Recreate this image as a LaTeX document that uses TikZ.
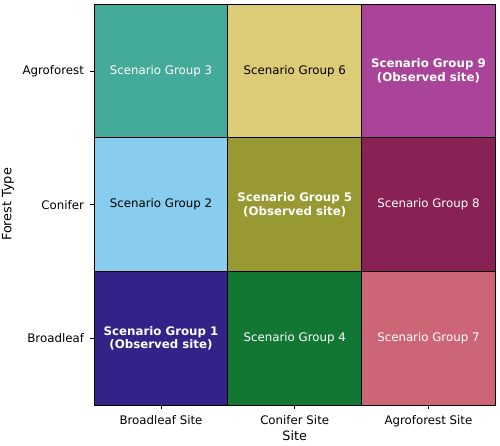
\documentclass[tikz,border=0pt]{standalone}
\usepackage{fontspec}
\setmainfont{DejaVu Sans}
\usepackage{tikz}
\usetikzlibrary{positioning}
\usepackage{xcolor}
\definecolor{tolindigo}{HTML}{332288}
\definecolor{tolcyan}{HTML}{88CCEE}
\definecolor{tolteal}{HTML}{44AA99}
\definecolor{tolgreen}{HTML}{117733}
\definecolor{tololive}{HTML}{999933}
\definecolor{tolsand}{HTML}{DDCC77}
\definecolor{tolrose}{HTML}{CC6677}
\definecolor{tolwine}{HTML}{882255}
\definecolor{tolpurple}{HTML}{AA4499}
\newcommand{\obsline}[1]{\textbf{Scenario Group #1}\\\textbf{(Observed site)}}

\begin{document}
\begin{tikzpicture}[x=1pt, y=-1pt, font=\fontsize{11.8}{13.5}\selectfont,
  cell/.style={draw=black, line width=1pt, minimum width=133.7pt,
    minimum height=133.7pt, inner sep=0pt, outer sep=0pt, align=center},
  lab/.style={inner sep=0pt},
  axtitle/.style={inner sep=0pt, font=\fontsize{12.8}{14}\selectfont}]
\useasboundingbox (0,0) rectangle (500,446);

% grid of scenario groups, top row first
\node[cell, fill=tolteal, text=white] (g3) at (161,71) {Scenario Group 3};
\node[cell, fill=tolsand, right=0pt of g3] (g6) {Scenario Group 6};
\node[cell, fill=tolpurple, text=white, right=0pt of g6] (g9) {\obsline{9}};
\node[cell, fill=tolcyan, below=0pt of g3] (g2) {Scenario Group 2};
\node[cell, fill=tololive, text=white, right=0pt of g2] (g5) {\obsline{5}};
\node[cell, fill=tolwine, text=white, right=0pt of g5] (g8) {Scenario Group 8};
\node[cell, fill=tolindigo, text=white, below=0pt of g2] (g1) {\obsline{1}};
\node[cell, fill=tolgreen, text=white, right=0pt of g1] (g4) {Scenario Group 4};
\node[cell, fill=tolrose, text=white, right=0pt of g4] (g7) {Scenario Group 7};

% ticks
\foreach \c in {g3,g2,g1} \draw[line width=0.8pt] (\c.west) -- ++(-4,0);
\foreach \c in {g1,g4,g7} \draw[line width=0.8pt] (\c.south) -- ++(0,4);

% tick labels
\node[lab, left=10pt of g3.west] (agro) {Agroforest};
\node[lab, left=10pt of g2.west] (conif) {Conifer};
\node[lab, left=10pt of g1.west] (broad) {Broadleaf};
\node[lab, below=10.5pt of g1.south] (broadsite) {Broadleaf Site};
\node[lab, below=10.5pt of g4.south] (conifsite) {Conifer Site};
\node[lab, below=10.5pt of g7.south] (agrosite) {Agroforest Site};

% axis titles
\node[axtitle, below=5pt of conifsite] (xtitle) {Site};
\node[axtitle, rotate=90] (ytitle) at (8,204.5) {Forest Type};
\end{tikzpicture}
\end{document}
